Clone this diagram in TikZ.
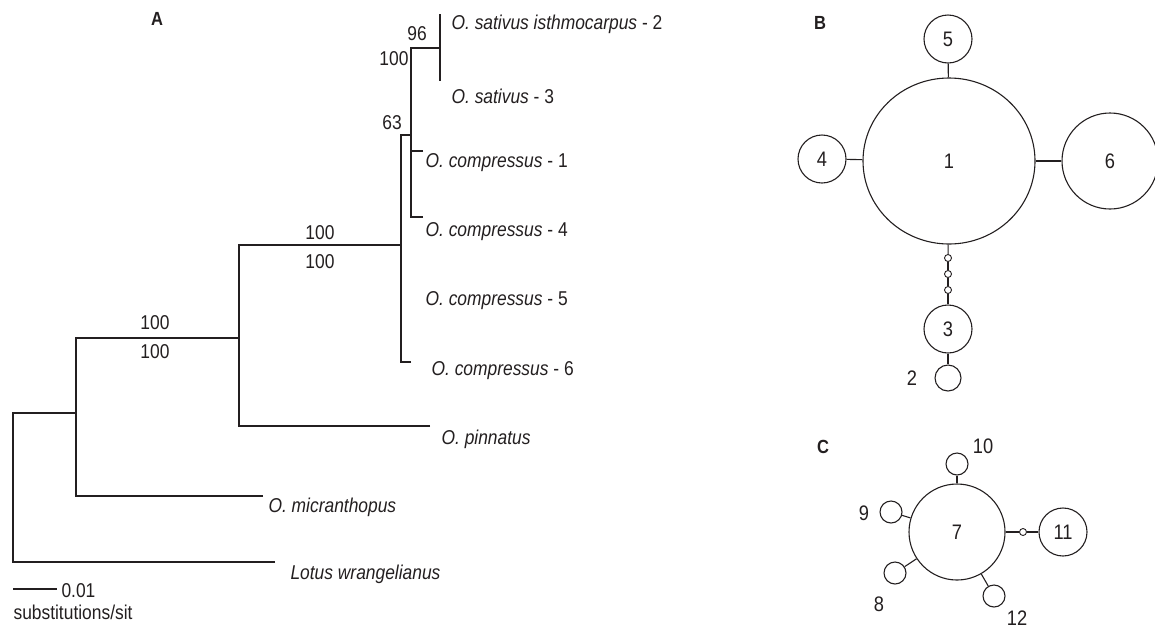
\documentclass[tikz,border=0pt]{standalone}
\usepackage{fontspec}
\setmainfont{Liberation Sans}[FakeStretch=0.87]
\usetikzlibrary{shapes.geometric}
\definecolor{ink}{RGB}{35,31,32}
\begin{document}
\begin{tikzpicture}[x=1pt,y=-1pt,line width=1.1pt,draw=ink,
  lab/.style={anchor=base west,inner sep=0pt,text=ink,font=\fontsize{20}{22}\selectfont},
  sup/.style={inner sep=0pt,text=ink,font=\fontsize{20}{22}\selectfont},
  num/.style={inner sep=0pt,text=ink,font=\fontsize{21}{23}\selectfont},
  panel/.style={inner sep=0pt,text=ink,font=\fontsize{19}{21}\selectfont\bfseries},
  hap/.style={draw=ink,circle,inner sep=0pt,text=ink,font=\fontsize{21}{23}\selectfont},
  med/.style={draw=ink,circle,inner sep=0pt,minimum size=7pt,line width=0.9pt}]
\useasboundingbox (0,0) rectangle (1155,630);
% ---------- tree (A) ----------
\coordinate (R) at (13,487);
\coordinate (n76) at (76,413);
\coordinate (n239) at (239,338);
\coordinate (n401) at (401,245);
\coordinate (n411) at (411,135);
\coordinate (n440) at (440,48);
\coordinate (tLotus) at (275,562);
\coordinate (tMic) at (263,496);
\coordinate (tPin) at (430,426);
\coordinate (tC6) at (411,362);
\coordinate (tC1) at (423,151);
\coordinate (tC4) at (423,217);
\coordinate (tS2) at (440,14);
\coordinate (tS3) at (440,81);
\draw (n76) -| (R);
\draw (tLotus) -| (R);
\draw (n239) -| (n76);
\draw (tMic) -| (n76);
\draw (n401) -| (n239);
\draw (tPin) -| (n239);
\draw (n411) -| (n401);
\draw (tC6) -| (n401);
\draw (n440) -| (n411);
\draw (tC1) -| (n411);
\draw (tC4) -| (n411);
\draw (tS2) -- (tS3);
% leaf labels
\node[lab] (lS2) at (451,29) {\textit{O. sativus isthmocarpus} - 2};
\node[lab] (lS3) at (451,103) {\textit{O. sativus} - 3};
\node[lab] (lC1) at (425,167) {\textit{O. compressus} - 1};
\node[lab] (lC4) at (425,236) {\textit{O. compressus} - 4};
\node[lab] (lC5) at (425,305) {\textit{O. compressus} - 5};
\node[lab] (lC6) at (431,375) {\textit{O. compressus} - 6};
\node[lab] (lPin) at (441,444) {\textit{O. pinnatus}};
\node[lab] (lMic) at (268,512) {\textit{O. micranthopus}};
\node[lab] (lLot) at (290,579) {\textit{Lotus wrangelianus}};
% support values
\node[sup] (s96) at (417,34) {96};
\node[sup] (s100a) at (394,59) {100};
\node[sup] (s63) at (392,123) {63};
\node[sup] (s100b) at (320,233) {100};
\node[sup] (s100c) at (320,262) {100};
\node[sup] (s100d) at (155,323) {100};
\node[sup] (s100e) at (155,352) {100};
% scale bar
\coordinate (sb1) at (13,589);
\coordinate (sb2) at (57,589);
\draw (sb1) -- (sb2);
\node[lab] (sbl) at (61,597) {0.01};
\node[lab] (sbu) at (13,619) {substitutions/sit};
\node[panel] (pA) at (157,19) {A};
% ---------- network (B) ----------
\node[panel] (pB) at (820,23) {B};
\node[draw=ink,ellipse,inner sep=0pt,minimum width=172pt,minimum height=166pt,text=ink,font=\fontsize{21}{23}\selectfont] (h1) at (949,161) {1};
\node[hap,minimum size=48pt] (h5) at (948,39) {5};
\node[hap,minimum size=48pt] (h4) at (822,159) {4};
\node[hap,minimum size=96pt] (h6) at (1110,161) {6};
\node[med] (m1) at (948,258) {};
\node[med] (m2) at (948,274) {};
\node[med] (m3) at (948,290) {};
\node[hap,minimum size=48pt] (h3) at (948,329) {3};
\node[hap,minimum size=26pt] (h2) at (948,378) {};
\node[num] (l2) at (912,378) {2};
\draw (h5) -- (h1);
\draw (h4) -- (h1);
\draw (h1) -- (h6);
\draw (h1) -- (m1);
\draw (m1) -- (m2);
\draw (m2) -- (m3);
\draw (m3) -- (h3);
\draw (h3) -- (h2);
% ---------- network (C) ----------
\node[panel] (pC) at (823,447) {C};
\node[hap,minimum size=96pt] (c7) at (957,532) {7};
\node[hap,minimum size=22pt] (c10) at (957,464) {};
\node[hap,minimum size=22pt] (c9) at (891,512) {};
\node[hap,minimum size=22pt] (c8) at (895,573) {};
\node[hap,minimum size=22pt] (c12) at (994,596) {};
\node[med] (mc) at (1023,532) {};
\node[hap,minimum size=48pt] (c11) at (1063,532) {11};
\node[num] (l10) at (983,446) {10};
\node[num] (l9) at (864,513) {9};
\node[num] (l8) at (879,604) {8};
\node[num] (l12) at (1017,618) {12};
\draw (c7) -- (c10);
\draw (c7) -- (c9);
\draw (c7) -- (c8);
\draw (c7) -- (c12);
\draw (c7) -- (mc);
\draw (mc) -- (c11);
\end{tikzpicture}
\end{document}
